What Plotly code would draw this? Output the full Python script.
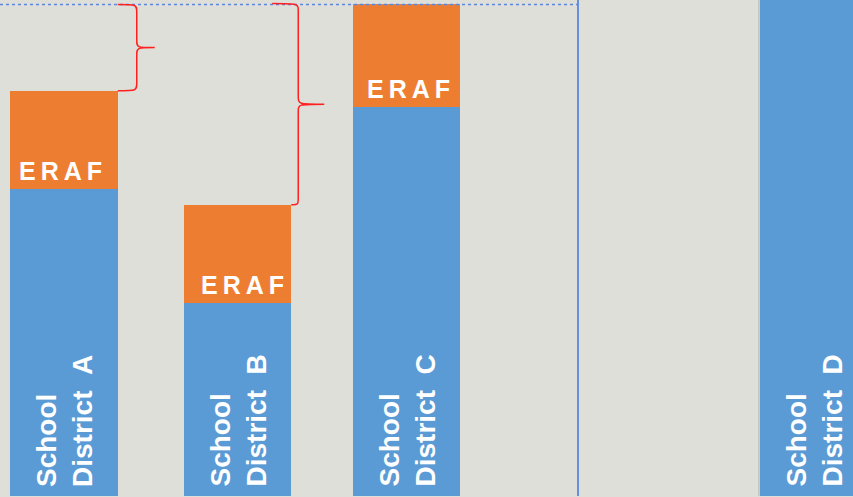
import plotly.graph_objects as go

# ---- data ----
districts = ["School District A", "School District B", "School District C", "School District D"]
labels = ["School<br>District  A", "School<br>District  B", "School<br>District  C", "School<br>District  D"]
base_values = [61.9, 38.9, 78.4, 105.0]
eraf_values = [19.8, 19.8, 20.8, 0.0]
eraf_label = "ERAF"
reference_level = 99.1

# ---- layout constants ----
bar_centers = [64, 237.5, 406.5, 813.5]
eraf_xshift = [-4, 5, 2, 0]
bar_width = 107.5
divider_x = 578
W, H = 853, 497
BLUE = "#5B9BD5"
ORANGE = "#ED7D31"
BG = "#DFDFD9"
FONT = "Liberation Sans, Arial, sans-serif"


def spaced(s, sp="\u2009"):
    return sp.join(list(s))


fig = go.Figure()
fig.add_trace(go.Bar(x=bar_centers, y=base_values, width=bar_width,
                     marker=dict(color=BLUE, line=dict(width=0)),
                     name="Base", hoverinfo="skip"))
fig.add_trace(go.Bar(x=bar_centers, y=eraf_values, width=bar_width,
                     marker=dict(color=ORANGE, line=dict(width=0)),
                     name=eraf_label, hoverinfo="skip"))

annotations = []
for xc, b, e, lab, xs in zip(bar_centers, base_values, eraf_values, labels, eraf_xshift):
    if e > 0:
        annotations.append(dict(x=xc, y=b, xref="x", yref="y", text=spaced(eraf_label),
                                showarrow=False, yanchor="middle", xanchor="center", yshift=18,
                                xshift=xs,
                                font=dict(family=FONT, size=25, color="white", weight="bold")))
    annotations.append(dict(x=xc, y=0, xref="x", yref="y", text=lab.replace("  ", "\u00a0\u00a0"),
                            textangle=-90,
                            showarrow=False, yanchor="bottom", xanchor="center", yshift=7,
                            align="left",
                            font=dict(family=FONT, size=28, color="white", weight="bold")))

shapes = []
# reference dotted line and divider
shapes.append(dict(type="line", xref="x", yref="y", x0=0, x1=divider_x, y0=reference_level, y1=reference_level,
                   line=dict(color="#5B86E0", width=1.5, dash="dot")))
shapes.append(dict(type="line", xref="x", yref="paper", x0=divider_x, x1=divider_x, y0=0, y1=1,
                   line=dict(color="#5B86E0", width=1.8)))
# thin grey edge of bar D
dx = bar_centers[3] - bar_width / 2 - 0.8
shapes.append(dict(type="line", xref="x", yref="paper", x0=dx, x1=dx, y0=0, y1=1,
                   line=dict(color="#B5B5B0", width=1)))


def brace(x0, xv, xt, ybot, ytop, xtop=None):
    if xtop is None:
        xtop = x0
    ym = (ybot + ytop) / 2
    r = 1.6
    p = (f"M {xtop},{ytop} C {xv},{ytop} {xv},{ytop} {xv},{ytop - r} "
         f"L {xv},{ym + r} C {xv},{ym} {xv},{ym} {xt},{ym} "
         f"C {xv},{ym} {xv},{ym} {xv},{ym - r} "
         f"L {xv},{ybot + r} C {xv},{ybot} {xv},{ybot} {x0},{ybot}")
    return dict(type="path", xref="x", yref="y", path=p, line=dict(color="#FF2020", width=1.5))


a_top = base_values[0] + eraf_values[0]
b_top = base_values[1] + eraf_values[1]
a_right = bar_centers[0] + bar_width / 2
b_right = bar_centers[1] + bar_width / 2
shapes.append(brace(a_right, a_right + 19, a_right + 37, a_top, reference_level))
shapes.append(brace(b_right, b_right + 7, b_right + 33, b_top, reference_level + 0.2, xtop=b_right - 19))

fig.update_layout(
    width=W, height=H, barmode="stack", bargap=0,
    margin=dict(l=0, r=0, t=0, b=1),
    paper_bgcolor=BG, plot_bgcolor=BG,
    showlegend=False,
    xaxis=dict(range=[0, W], visible=False, fixedrange=True),
    yaxis=dict(range=[0, 100], visible=False, fixedrange=True),
    annotations=annotations, shapes=shapes,
)

fig.write_html("out.html", config={"displayModeBar": False},
               post_script="document.body.style.margin='0';document.body.style.overflow='hidden';")
